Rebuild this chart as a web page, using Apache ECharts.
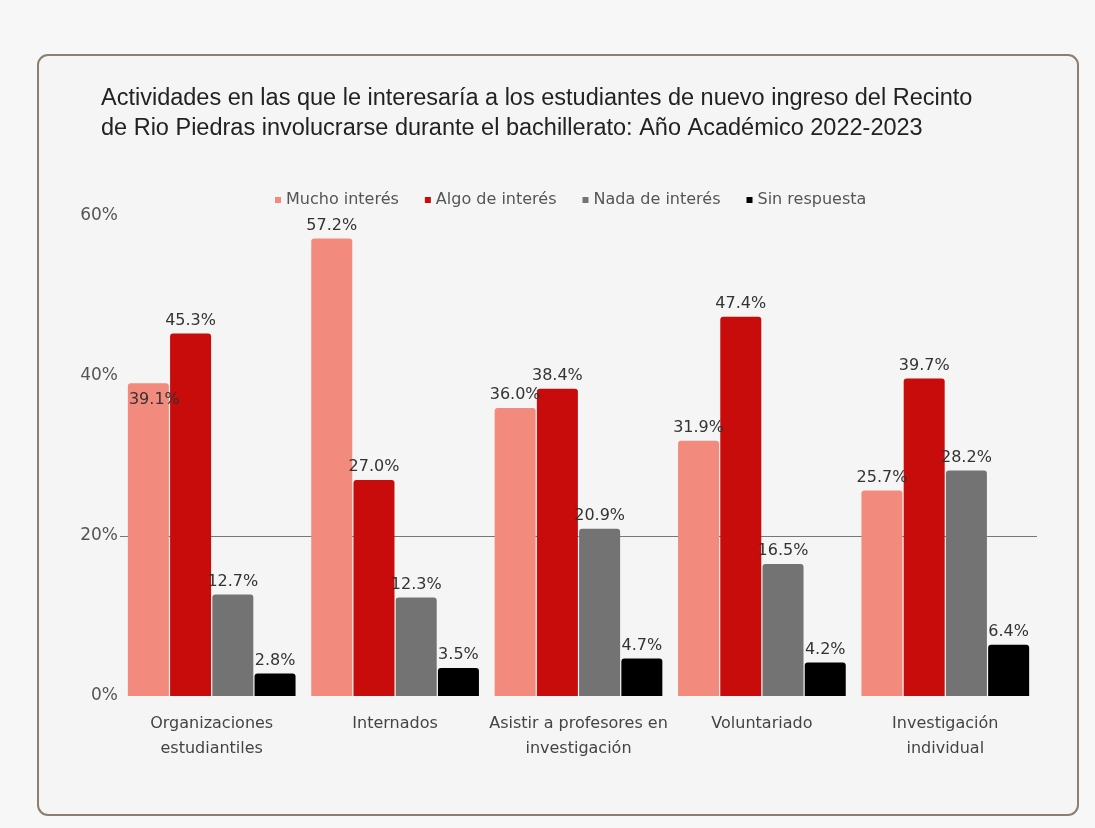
<!DOCTYPE html>
<html>
<head>
<meta charset="utf-8">
<script src="https://cdn.jsdelivr.net/npm/echarts@6/dist/echarts.min.js"></script>
<style>
  html, body { margin: 0; padding: 0; background: #f7f7f7; }
  #chart { width: 1095px; height: 828px; }
</style>
</head>
<body>
<div id="chart"></div>
<script>
// valores (porcentaje)
var categorias = ['Organizaciones\nestudiantiles', 'Internados', 'Asistir a profesores en\ninvestigación', 'Voluntariado', 'Investigación\nindividual']
var muchoInteres = [39.1, 57.2, 36.0, 31.9, 25.7]
var algoInteres = [45.3, 27.0, 38.4, 47.4, 39.7]
var nadaInteres = [12.7, 12.3, 20.9, 16.5, 28.2]
var sinRespuesta = [2.8, 3.5, 4.7, 4.2, 6.4]
var ticksY = [0, 20, 40, 60]

var myChart = echarts.init(document.getElementById('chart'))

var fuente = 'DejaVu Sans'

function serie (name, data, color) {
  return {
    name: name,
    type: 'bar',
    barWidth: 41,
    barGap: '3%',
    data: data,
    itemStyle: {
      color: color,
      borderRadius: [3, 3, 0, 0]
    },
    label: {
      show: true,
      position: 'top',
      distance: 5,
      color: '#333',
      fontFamily: fuente,
      fontSize: 16,
      formatter: function (p) { return p.value.toFixed(1) + '%' }
    }
  }
}

var s1 = serie('Mucho interés', muchoInteres.map(function (v, i) {
  // la etiqueta de la primera barra queda montada sobre la barra
  if (i === 0) {
    return { value: v, label: { position: 'insideTop', offset: [6, 4] } }
  }
  return v
}), '#f28a7d')

var option = {
  backgroundColor: '#f7f7f7',
  animation: false,
  graphic: [{
    type: 'rect',
    z: -10,
    shape: { x: 38, y: 55, width: 1040, height: 760, r: 10 },
    style: { fill: '#f5f5f5', stroke: '#8c7f6e', lineWidth: 2 }
  }],
  title: {
    text: 'Actividades en las que le interesaría a los estudiantes de nuevo ingreso del Recinto\nde Rio Piedras involucrarse durante el bachillerato: Año Académico 2022-2023',
    left: 96,
    top: 79,
    textStyle: {
      fontFamily: 'Liberation Sans',
      fontWeight: 'normal',
      fontSize: 23.5,
      lineHeight: 30,
      color: '#222'
    }
  },
  legend: {
    top: 187,
    left: 270,
    itemWidth: 6,
    itemHeight: 6,
    itemGap: 26,
    icon: 'rect',
    textStyle: { fontFamily: fuente, fontSize: 16, color: '#555' },
    data: ['Mucho interés', 'Algo de interés', 'Nada de interés', 'Sin respuesta']
  },
  grid: {
    left: 120,
    right: 58,
    top: 216,
    bottom: 132
  },
  xAxis: {
    type: 'category',
    data: categorias,
    axisLine: { show: false },
    axisTick: { show: false },
    axisLabel: {
      interval: 0,
      margin: 15,
      fontFamily: fuente,
      fontSize: 16,
      lineHeight: 25,
      color: '#444'
    }
  },
  yAxis: {
    type: 'value',
    min: ticksY[0],
    max: ticksY[ticksY.length - 1],
    interval: 20,
    axisLine: { show: false },
    axisTick: { show: false },
    axisLabel: {
      margin: 2,
      fontFamily: fuente,
      fontSize: 17,
      color: '#555',
      formatter: '{value}%'
    },
    splitLine: {
      show: true,
      lineStyle: {
        color: ['rgba(0,0,0,0)', '#777', 'rgba(0,0,0,0)', 'rgba(0,0,0,0)'],
        width: 1
      }
    }
  },
  series: [
    s1,
    serie('Algo de interés', algoInteres, '#c80b0b'),
    serie('Nada de interés', nadaInteres, '#737373'),
    serie('Sin respuesta', sinRespuesta, '#000000')
  ]
}

myChart.setOption(option)
</script>
</body>
</html>
